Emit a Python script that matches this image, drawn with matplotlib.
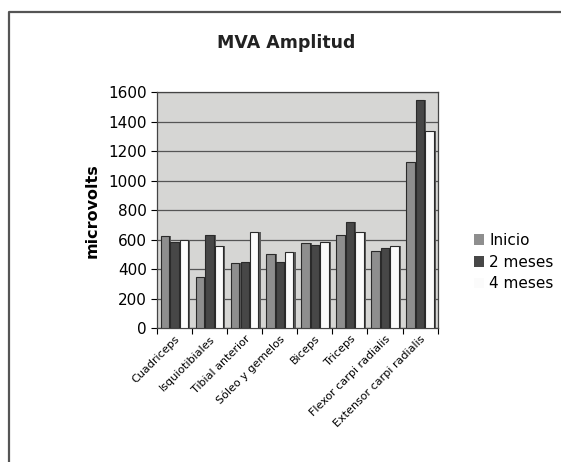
import numpy as np
import matplotlib
matplotlib.use("Agg")
import matplotlib.pyplot as plt
from matplotlib.lines import Line2D

# muscle groups and mean MVA amplitude (microvolts) per session
musculos = ["Cuadriceps", "Isquiotibiales", "Tibial anterior", "Sóleo y gemelos",
            "Biceps", "Triceps", "Flexor carpi radialis", "Extensor carpi radialis"]
inicio = [625, 345, 440, 500, 580, 635, 520, 1130]
dos_meses = [585, 630, 450, 445, 565, 720, 545, 1550]
cuatro_meses = [600, 560, 650, 515, 585, 655, 560, 1340]
series = ["Inicio", "2 meses", "4 meses"]
yticks = [0, 200, 400, 600, 800, 1000, 1200, 1400, 1600]

colores = ["#8e8e8e", "#474747", "#fbfbfb"]

fig = plt.figure(figsize=(5.61, 4.62), dpi=100)
fig.patch.set_facecolor("white")

# chart frame (left and top edges)
fig.add_artist(Line2D([0.016, 0.016, 1.0], [0.0, 0.975, 0.975], transform=fig.transFigure,
                      color="#555555", lw=1.6))

ax = fig.add_axes([0.28, 0.29, 0.50, 0.51])
ax.set_facecolor("#d6d6d4")

x = np.arange(len(musculos))
ancho = 0.24
for i, (nombre, valores) in enumerate(zip(series, [inicio, dos_meses, cuatro_meses])):
    pos = x + (i - 1) * (ancho + 0.03)
    ax.bar(pos, valores, width=ancho, color=colores[i], edgecolor="#2a2a2a",
           lw=0.8, label=nombre, zorder=3)
    # side face for a bit of depth
    ax.bar(pos + ancho / 2 + 0.03, valores, width=0.06, color="#5a5a5a",
           edgecolor="none", zorder=2)

ax.set_xlim(-0.5, len(musculos) - 0.5)
ax.set_ylim(0, 1600)
ax.set_yticks(yticks)
ax.set_yticklabels([str(v) for v in yticks], fontsize=11)
ax.set_xticks(np.arange(len(musculos) + 1) - 0.5, minor=False)
ax.set_xticklabels([])
ax.set_xticks(x, minor=True)
ax.set_xticklabels(musculos, minor=True, rotation=45, ha="right",
                   rotation_mode="anchor", fontsize=8)
ax.tick_params(axis="x", which="minor", length=0, pad=4)
ax.tick_params(axis="x", which="major", length=4)
ax.tick_params(axis="y", length=4)
ax.yaxis.grid(True, color="#555555", lw=0.9, zorder=1)
ax.set_axisbelow(True)
for s in ax.spines.values():
    s.set_color("#444444")
    s.set_linewidth(0.9)

ax.set_ylabel("microvolts", fontsize=11.5, fontweight="bold", labelpad=6)
fig.text(0.51, 0.908, "MVA Amplitud", ha="center", va="center",
         fontsize=12.5, fontweight="bold", color="#222222")

leg = ax.legend(loc="center left", bbox_to_anchor=(1.08, 0.28), frameon=False,
                fontsize=11, handlelength=0.7, handleheight=0.7,
                handletextpad=0.3, labelspacing=0.45)
for h in leg.legend_handles:
    h.set_edgecolor("none")

fig.savefig("out.png", dpi=100, facecolor=fig.get_facecolor())
